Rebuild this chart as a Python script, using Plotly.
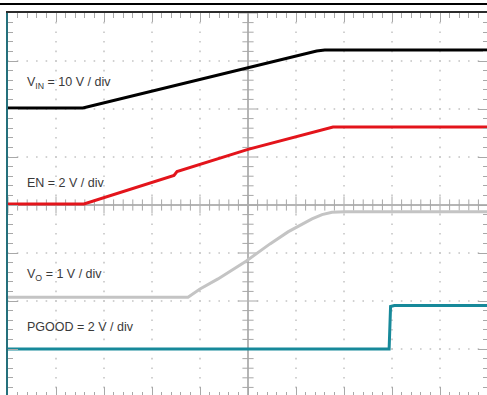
import numpy as np
import plotly.graph_objects as go

# ---- data (time in divisions, voltages in volts) ----
vin_t = [-5.0, -3.44, 1.43, 1.60, 5.0]
vin_v = [0.2, 0.2, 12.1, 12.3, 12.3]

en_t = [-5.0, -3.417, -1.542, -1.479, 0.0, 1.646, 1.771, 5.0]
en_v = [0.04, 0.04, 1.23, 1.39, 2.32, 3.17, 3.25, 3.25]

vo_t = [-5.0, -1.25, -1.0, -0.625, -0.042, 0.458, 0.833, 1.083, 1.333, 1.542, 1.75, 2.021, 5.0]
vo_v = [0.08, 0.08, 0.25, 0.46, 0.83, 1.19, 1.44, 1.58, 1.71, 1.80, 1.85, 1.86, 1.86]

pg_t = [-5.0, 2.94, 2.97, 3.05, 5.0]
pg_v = [0.0, 0.0, 1.77, 1.81, 1.81]

channel_names = ["V<sub>IN</sub> = 10 V / div", "EN = 2 V / div", "V<sub>O</sub> = 1 V / div", "PGOOD = 2 V / div"]
channel_scale = [10, 2, 1, 2]      # V/div
channel_offset = [2, 0, -2, -3]    # div
channel_color = ["#000000", "#e3141b", "#c4c4c4", "#17899a"]
label_pos = [2.54, 0.46, -1.46, -2.54]

series = [(vin_t, vin_v), (en_t, en_v), (vo_t, vo_v), (pg_t, pg_v)]

XR = [-5.0, 4.979]
YR = [-3.958, 4.0]
GRID = "#c6c6c6"
TICK = "#a8a8a8"

fig = go.Figure()

# graticule dots
gx, gy = [], []
for k in range(-4, 5):
    if k == 0:
        continue
    for v in np.arange(-4.0, 4.01, 0.2):
        gx.append(k); gy.append(v)
for k in range(-3, 4):
    if k == 0:
        continue
    for v in np.arange(-5.0, 5.01, 0.2):
        gx.append(v); gy.append(k)
fig.add_trace(go.Scatter(x=gx, y=gy, mode="markers",
                         marker=dict(symbol="square", size=1.6, color=GRID),
                         hoverinfo="skip", showlegend=False))
# keeps the overlay (right / bottom tick) axes alive
fig.add_trace(go.Scatter(x=[None], y=[None], mode="markers", xaxis="x2", yaxis="y2",
                         hoverinfo="skip", showlegend=False))

# center cross ticks
cx = np.round(np.arange(-5.0, 5.01, 0.2), 3)
minor_x = [v for v in cx if abs(v - round(v)) > 1e-6]
major_x = [v for v in cx if abs(v - round(v)) < 1e-6]
cy = np.round(np.arange(-4.0, 4.01, 0.2), 3)
minor_y = [v for v in cy if abs(v - round(v)) > 1e-6]
major_y = [v for v in cy if abs(v - round(v)) < 1e-6]
fig.add_trace(go.Scatter(x=minor_x, y=[0] * len(minor_x), mode="markers",
                         marker=dict(symbol="line-ns", size=8, line=dict(width=1, color=TICK)),
                         hoverinfo="skip", showlegend=False))
fig.add_trace(go.Scatter(x=major_x, y=[0] * len(major_x), mode="markers",
                         marker=dict(symbol="line-ns", size=12, line=dict(width=1, color=TICK)),
                         hoverinfo="skip", showlegend=False))
fig.add_trace(go.Scatter(x=[0] * len(minor_y), y=minor_y, mode="markers",
                         marker=dict(symbol="line-ew", size=8, line=dict(width=1, color=TICK)),
                         hoverinfo="skip", showlegend=False))
fig.add_trace(go.Scatter(x=[0] * len(major_y), y=major_y, mode="markers",
                         marker=dict(symbol="line-ew", size=14, line=dict(width=1, color=TICK)),
                         hoverinfo="skip", showlegend=False))

# waveforms
for (t, v), sc, off, col in zip(series, channel_scale, channel_offset, channel_color):
    y = [off + val / sc for val in v]
    fig.add_trace(go.Scatter(x=t, y=y, mode="lines", line=dict(color=col, width=3),
                             hoverinfo="skip", showlegend=False))

# ground markers
fig.add_trace(go.Scatter(x=[-5.085] * 4, y=channel_offset, mode="markers", cliponaxis=False,
                         marker=dict(symbol="triangle-right", size=6, color="#222222"),
                         hoverinfo="skip", showlegend=False))

for name, yp in zip(channel_names, label_pos):
    fig.add_annotation(x=-4.65, y=yp, text=name, showarrow=False, xanchor="left", yanchor="middle",
                       font=dict(family="Liberation Sans, Arial", size=12.5, color="#3a3a3a"))

fig.add_shape(type="line", xref="paper", yref="paper", x0=-0.02, x1=1.02, y0=1.0236, y1=1.0236,
              line=dict(color="#000000", width=2))

common = dict(showticklabels=False, showgrid=False, fixedrange=True)
fig.update_layout(
    width=487, height=395,
    margin=dict(l=8, r=0, t=13, b=0),
    paper_bgcolor="white", plot_bgcolor="white",
    xaxis=dict(range=XR, side="top", showline=True, linecolor="#2b2b2b", linewidth=2,
               zeroline=True, zerolinecolor="#b5b5b5", zerolinewidth=1.5,
               ticks="inside", ticklen=9, tickcolor=TICK, tickwidth=1, dtick=1, tick0=0,
               minor=dict(ticks="inside", ticklen=5, dtick=0.2, tick0=0, tickcolor=TICK, showgrid=False),
               **common),
    yaxis=dict(range=YR, showline=True, linecolor="#24707c", linewidth=2,
               zeroline=True, zerolinecolor="#b5b5b5", zerolinewidth=1.5,
               ticks="inside", ticklen=10, tickcolor=TICK, tickwidth=1, dtick=1, tick0=0,
               minor=dict(ticks="inside", ticklen=5, dtick=0.2, tick0=0, tickcolor=TICK, showgrid=False),
               **common),
    xaxis2=dict(range=XR, overlaying="x", side="bottom", anchor="y2", showline=False, zeroline=False,
                ticks="inside", ticklen=8, tickcolor=TICK, dtick=1, tick0=0,
                minor=dict(ticks="inside", ticklen=3, dtick=0.2, tick0=0, tickcolor=TICK, showgrid=False),
                **common),
    yaxis2=dict(range=YR, overlaying="y", side="right", anchor="x2", showline=False, zeroline=False,
                ticks="inside", ticklen=9, tickcolor=TICK, dtick=1, tick0=0,
                minor=dict(ticks="inside", ticklen=4, dtick=0.2, tick0=0, tickcolor=TICK, showgrid=False),
                **common),
)

fig.write_html("out.html", config={"displayModeBar": False, "staticPlot": True},
               post_script="document.body.style.margin='0';")
